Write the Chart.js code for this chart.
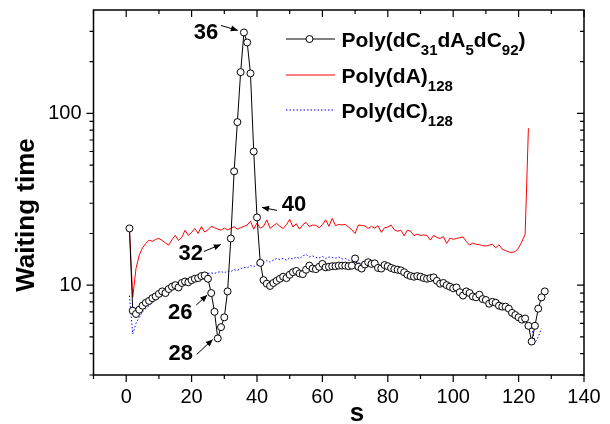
<!DOCTYPE html>
<html>
<head>
<meta charset="utf-8">
<script src="https://cdn.jsdelivr.net/npm/chart.js@4.4.1/dist/chart.umd.min.js"></script>
<style>
html,body{margin:0;padding:0;background:#fff;}
canvas{display:block;}
</style>
</head>
<body>
<canvas id="c" width="610" height="424"></canvas>
<script>
// ---------------- DATA ----------------
const seriesNames = ['Poly(dC31dA5dC92)', 'Poly(dA)128', 'Poly(dC)128'];

// Poly(dC31dA5dC92): s = 1..128
const polyCAC = [
  21.4, 7.1, 6.8, 7.2, 7.6, 7.9, 8.1, 8.4, 8.6, 8.9,
  9.2, 9.0, 9.5, 9.8, 10.0, 9.7, 10.3, 10.5, 10.4, 10.7,
  10.9, 11.0, 11.3, 11.4, 10.9, 9.0, 7.0, 4.9, 5.7, 6.5,
  9.2, 18.7, 46, 89, 174, 296, 259, 171, 60, 24.8,
  13.5, 10.7, 10.2, 9.9, 10.3, 10.6, 10.9, 11.2, 11.0, 11.5,
  11.9, 12.1, 11.7, 11.6, 12.3, 13.0, 12.5, 12.4, 12.8, 13.3,
  12.7, 12.8, 12.9, 12.9, 13.0, 13.0, 13.0, 12.9, 13.0, 14.3,
  12.8, 12.5, 13.2, 13.6, 13.3, 13.4, 12.6, 12.5, 13.1, 12.9,
  12.6, 12.4, 12.3, 12.2, 11.9, 11.5, 11.3, 11.2, 11.3, 11.2,
  11.0, 10.9, 11.0, 11.1, 10.6, 10.2, 10.3, 10.0, 9.8, 9.6,
  9.7, 9.1, 8.7, 9.2, 9.0, 8.6, 8.5, 8.8, 8.3, 8.2,
  7.8, 8.0, 7.9, 7.6, 7.5, 7.5, 7.3, 6.9, 6.7, 6.5,
  6.3, 6.4, 5.8, 4.7, 5.8, 7.3, 8.5, 9.2
];

// Poly(dA)128: s = 1..123
const polyA = [
  21.0, 8.5, 12.5, 15.0, 16.5, 17.5, 18.3, 18.0, 18.5, 18.7,
  18.2, 17.6, 17.1, 18.4, 19.5, 18.2, 19.0, 20.9, 19.5, 20.3,
  21.4, 20.0, 21.9, 20.4, 21.0, 22.0, 21.6, 21.2, 20.9, 21.5,
  21.0, 21.4, 21.9, 21.2, 21.6, 22.0, 22.4, 23.6, 21.2, 23.0,
  21.5, 22.0, 24.0, 21.4, 22.2, 22.9, 22.0, 21.4, 22.5, 24.2,
  21.8, 22.8, 21.2, 22.5, 23.2, 21.9, 22.4, 22.3, 21.6, 22.5,
  24.0, 22.0, 24.5, 22.2, 22.6, 22.4, 22.6, 21.8, 21.0, 20.0,
  22.4, 22.3, 22.1, 21.4, 22.0, 21.5, 22.2, 20.3, 21.6, 21.8,
  22.4, 21.0, 20.6, 20.9, 19.4, 20.9, 20.6, 19.4, 19.8, 19.5,
  19.6, 19.5, 18.3, 19.5, 19.0, 18.7, 19.2, 17.5, 18.8, 18.5,
  18.7, 18.9, 19.1, 18.0, 17.1, 17.6, 17.3, 17.2, 17.0, 16.9,
  17.1, 17.3, 16.5, 17.2, 16.2, 15.9, 15.6, 15.5, 15.7, 16.5,
  17.9, 19.8, 82
];

// Poly(dC)128: s = 1..127
const polyC = [
  8.7, 5.2, 6.0, 6.5, 7.0, 7.3, 7.6, 7.9, 8.2, 8.5,
  8.7, 9.0, 9.3, 9.5, 9.8, 10.0, 10.2, 10.4, 10.6, 10.9,
  11.0, 11.3, 11.4, 11.6, 11.7, 11.8, 11.7, 11.9, 12.0, 11.8,
  12.1, 12.0, 12.3, 12.2, 12.5, 12.7, 12.6, 13.0, 12.8, 13.2,
  13.4, 13.5, 13.9, 13.6, 14.0, 14.3, 14.1, 14.3, 14.0, 14.4,
  14.2, 14.6, 14.3, 14.8, 15.1, 14.6, 14.8, 14.5, 14.4, 14.7,
  14.3, 14.6, 14.5, 14.4, 14.6, 14.2, 14.3, 14.0, 13.8, 13.6,
  13.5, 13.4, 13.3, 13.4, 13.2, 13.1, 13.0, 12.8, 12.9, 12.6,
  12.4, 12.3, 12.2, 12.0, 11.9, 11.7, 11.5, 11.4, 11.3, 11.1,
  11.0, 10.9, 10.7, 10.6, 10.4, 10.3, 10.1, 10.0, 9.8, 9.7,
  9.5, 9.3, 9.2, 9.0, 8.9, 8.7, 8.6, 8.4, 8.3, 8.1,
  8.0, 7.8, 7.7, 7.5, 7.4, 7.2, 7.1, 6.9, 6.8, 6.6,
  6.4, 6.2, 6.0, 5.7, 4.6, 5.0, 5.6
];

const xTickValues = [-10, 0, 10, 20, 30, 40, 50, 60, 70, 80, 90, 100, 110, 120, 130, 140];
const xTickLabels = ['0', '20', '40', '60', '80', '100', '120', '140'];
const yTickValues = [3, 4, 5, 6, 7, 8, 9, 10, 20, 30, 40, 50, 60, 70, 80, 90, 100, 200, 300];
const yTickLabels = ['10', '100'];

const xTitle = 's';
const yTitle = 'Waiting time';

// annotations: label text, target s on Poly(dC31dA5dC92)
const annotations = [
  { text: '36', s: 36 },
  { text: '40', s: 40 },
  { text: '32', s: 32 },
  { text: '26', s: 26 },
  { text: '28', s: 28 }
];

// ---------------- STYLE ----------------
const FONT = '"Liberation Sans", Arial, Helvetica, sans-serif';
// pixel offsets relative to the annotated point: text centre, arrow tail, arrow tip
const annotStyle = {
  '36': { tx: -38, ty: 0,   ax0: -23, ay0: -7,  ax1: -6, ay1: -2 },
  '40': { tx: 37,  ty: -12, ax0: 20,  ay0: -7,  ax1: 5,  ay1: -10 },
  '32': { tx: -40, ty: 15,  ax0: -27, ay0: 13,  ax1: -10, ay1: 6 },
  '26': { tx: -31, ty: 20,  ax0: -15, ay0: 12,  ax1: -4, ay1: 2 },
  '28': { tx: -37, ty: 16,  ax0: -21, ay0: 16,  ax1: -5, ay1: 1 }
};
const legendStyle = { lineX0: 286, lineX1: 335, textX: 341.5, rows: [39, 75, 110], baseOff: 7.5 };
const titleStyle = { xTitleX: 357, xTitleBase: 421, yTitleX: 33.5, yTitleY: 215 };

const toPts = (arr) => arr.map((v, i) => ({ x: i + 1, y: v }));

const framePlugin = {
  id: 'framePlugin',
  afterDraw(chart) {
    const { ctx, chartArea: a, scales } = chart;
    const xs = scales.x, ys = scales.y;
    ctx.save();
    // frame
    ctx.strokeStyle = '#000';
    ctx.lineWidth = 1.5;
    ctx.strokeRect(a.left, a.top, a.right - a.left, a.bottom - a.top);
    // ticks
    ctx.lineWidth = 1.2;
    ctx.beginPath();
    xTickValues.forEach(v => {
      const px = xs.getPixelForValue(v);
      const major = xTickLabels.includes(String(v));
      const len = major ? 7 : 4;
      ctx.moveTo(px, a.bottom); ctx.lineTo(px, a.bottom + len);
      ctx.moveTo(px, a.top); ctx.lineTo(px, a.top + len);
    });
    yTickValues.forEach(v => {
      const py = ys.getPixelForValue(v);
      const major = yTickLabels.includes(String(v));
      const len = major ? 7 : 4;
      ctx.moveTo(a.left, py); ctx.lineTo(a.left - len, py);
      ctx.moveTo(a.right, py); ctx.lineTo(a.right - len, py);
    });
    ctx.stroke();

    // axis titles
    const ts = titleStyle;
    ctx.fillStyle = '#000';
    ctx.font = 'bold 26px ' + FONT;
    ctx.textAlign = 'center';
    ctx.textBaseline = 'alphabetic';
    ctx.fillText(xTitle, ts.xTitleX, ts.xTitleBase);
    ctx.save();
    ctx.translate(ts.yTitleX, ts.yTitleY);
    ctx.rotate(-Math.PI / 2);
    ctx.fillText(yTitle, 0, 0);
    ctx.restore();

    // annotations
    ctx.font = 'bold 22px ' + FONT;
    ctx.textBaseline = 'middle';
    ctx.textAlign = 'center';
    annotations.forEach(an => {
      const st = annotStyle[an.text];
      const val = polyCAC[an.s - 1];
      const px = xs.getPixelForValue(an.s), py = ys.getPixelForValue(val);
      ctx.fillText(an.text, px + st.tx, py + st.ty);
      const x0 = px + st.ax0, y0 = py + st.ay0, x1 = px + st.ax1, y1 = py + st.ay1;
      ctx.lineWidth = 1;
      ctx.beginPath(); ctx.moveTo(x0, y0); ctx.lineTo(x1, y1); ctx.stroke();
      const ang = Math.atan2(y1 - y0, x1 - x0);
      const hl = 7, hw = 3;
      ctx.beginPath();
      ctx.moveTo(x1, y1);
      ctx.lineTo(x1 - hl * Math.cos(ang) + hw * Math.sin(ang), y1 - hl * Math.sin(ang) - hw * Math.cos(ang));
      ctx.lineTo(x1 - hl * Math.cos(ang) - hw * Math.sin(ang), y1 - hl * Math.sin(ang) + hw * Math.cos(ang));
      ctx.closePath(); ctx.fill();
    });

    // legend
    const ls = legendStyle;
    const rowsText = [
      [['Poly(dC', 0], ['31', 1], ['dA', 0], ['5', 1], ['dC', 0], ['92', 1], [')', 0]],
      [['Poly(dA)', 0], ['128', 1]],
      [['Poly(dC)', 0], ['128', 1]]
    ];
    const ds = chart.data.datasets;
    ls.rows.forEach((y, r) => {
      const d = ds[r];
      ctx.save();
      ctx.strokeStyle = d.borderColor;
      ctx.lineWidth = d.borderWidth;
      if (d.borderDash) ctx.setLineDash(d.borderDash);
      ctx.beginPath(); ctx.moveTo(ls.lineX0, y); ctx.lineTo(ls.lineX1, y); ctx.stroke();
      ctx.restore();
      if (d.pointRadius > 0) {
        ctx.beginPath();
        ctx.arc((ls.lineX0 + ls.lineX1) / 2 - 1, y, d.pointRadius, 0, Math.PI * 2);
        ctx.fillStyle = '#fff'; ctx.fill();
        ctx.lineWidth = 1; ctx.strokeStyle = '#000'; ctx.stroke();
      }
      ctx.fillStyle = '#000';
      ctx.textAlign = 'left';
      ctx.textBaseline = 'alphabetic';
      let x = ls.textX;
      const base = y + ls.baseOff;
      rowsText[r].forEach(([t, sub]) => {
        ctx.font = sub ? 'bold 15px ' + FONT : 'bold 21px ' + FONT;
        ctx.fillText(t, x, sub ? base + 8 : base);
        x += ctx.measureText(t).width;
      });
    });
    ctx.restore();
  }
};

new Chart(document.getElementById('c'), {
  type: 'line',
  data: {
    datasets: [
      {
        label: seriesNames[0], data: toPts(polyCAC),
        borderColor: '#000', borderWidth: 1,
        pointRadius: 3.5, pointBorderWidth: 1, pointBackgroundColor: '#fff', pointBorderColor: '#000',
        tension: 0
      },
      {
        label: seriesNames[1], data: toPts(polyA),
        borderColor: '#ff0000', borderWidth: 1, pointRadius: 0, tension: 0
      },
      {
        label: seriesNames[2], data: toPts(polyC),
        borderColor: '#0000ff', borderWidth: 1, borderDash: [1.5, 2], pointRadius: 0, tension: 0
      }
    ]
  },
  options: {
    responsive: false,
    animation: false,
    events: [],
    layout: { padding: { top: 10, right: 26, left: 0, bottom: 0 } },
    plugins: { legend: { display: false }, tooltip: { enabled: false } },
    scales: {
      x: {
        type: 'linear', min: -10, max: 140,
        afterFit(s) { s.height = 49; s.paddingLeft = 0; s.paddingRight = 0; },
        afterBuildTicks(s) { s.ticks = xTickValues.map(v => ({ value: v })); },
        ticks: {
          autoSkip: false, maxRotation: 0, minRotation: 0, padding: 3,
          color: '#000', font: { family: FONT, size: 20 },
          callback: (v) => xTickLabels.includes(String(v)) ? String(v) : ''
        },
        grid: { display: true, drawOnChartArea: false, drawTicks: true, tickLength: 7, color: 'rgba(0,0,0,0)' },
        border: { display: false }
      },
      y: {
        type: 'logarithmic', min: 3, max: 400,
        afterFit(s) { s.width = 93.5; s.paddingTop = 0; s.paddingBottom = 0; },
        afterBuildTicks(s) { s.ticks = yTickValues.map(v => ({ value: v })); },
        ticks: {
          autoSkip: false, padding: 5,
          color: '#000', font: { family: FONT, size: 20 },
          callback: (v) => yTickLabels.includes(String(v)) ? String(v) : ''
        },
        grid: { display: true, drawOnChartArea: false, drawTicks: true, tickLength: 7, color: 'rgba(0,0,0,0)' },
        border: { display: false }
      }
    }
  },
  plugins: [framePlugin]
});
</script>
</body>
</html>
